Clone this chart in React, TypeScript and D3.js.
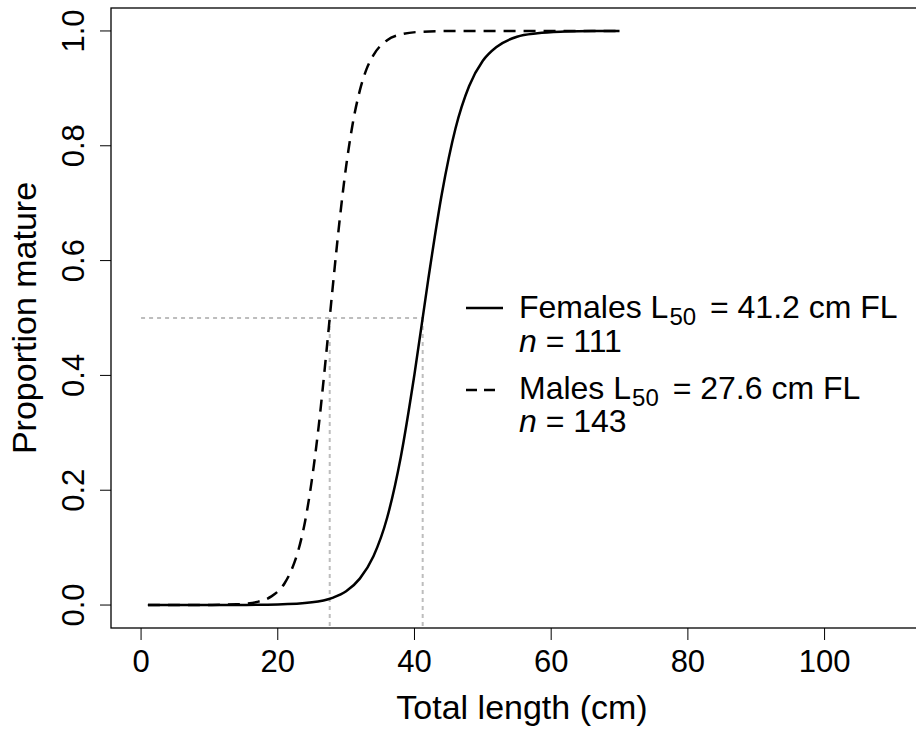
import React from "react";
import * as d3 from "d3";

// Female maturity ogive
const femaleLength = [1, 5, 10, 15, 20, 25, 28, 30, 32, 34, 36, 38, 40, 42, 44, 46, 48, 50, 52, 55, 58, 62, 66, 70];
const femaleProp = [0.0, 0.0, 0.0, 0.0002, 0.0009, 0.0047, 0.0126, 0.024, 0.046, 0.085, 0.152, 0.258, 0.402, 0.566, 0.716, 0.83, 0.904, 0.948, 0.972, 0.99, 0.996, 0.999, 1.0, 1.0];

// Male maturity ogive
const maleLength = [1, 5, 10, 14, 17, 19, 21, 22, 23, 24, 25, 26, 27, 28, 29, 30, 31, 32, 33, 34, 36, 38, 41, 45, 50, 60, 70];
const maleProp = [0.0, 0.0, 0.0002, 0.0013, 0.0055, 0.0146, 0.038, 0.061, 0.095, 0.146, 0.219, 0.313, 0.427, 0.549, 0.665, 0.764, 0.841, 0.896, 0.934, 0.958, 0.984, 0.994, 0.9986, 0.9998, 1.0, 1.0, 1.0];

const xTicks = [0, 20, 40, 60, 80, 100];
const yTicks = [0, 0.2, 0.4, 0.6, 0.8, 1.0];
const femaleL50 = 41.2;
const maleL50 = 27.6;
const femaleN = 111;
const maleN = 143;

const W = 916;
const H = 732;
const FONT = "'Liberation Sans', Arial, Helvetica, sans-serif";

export default function App() {
  const x = d3.scaleLinear().domain([-4.4, 114.4]).range([111, 923]);
  const y = d3.scaleLinear().domain([-0.04, 1.04]).range([628, 8]);

  const line = d3
    .line<[number, number]>()
    .x((d) => x(d[0]))
    .y((d) => y(d[1]))
    .curve(d3.curveMonotoneX);

  const fData = femaleLength.map((v, i) => [v, femaleProp[i]] as [number, number]);
  const mData = maleLength.map((v, i) => [v, maleProp[i]] as [number, number]);

  const grey = "#bdbdbd";
  const fs = 31;
  const titleFs = 34;
  const legFs = 32;
  const subFs = 24;

  return (
    <svg
      width={W}
      height={H}
      style={{ position: "absolute", left: 0, top: 0, background: "#fff" }}
      fontFamily={FONT}
    >
      <rect x={0} y={0} width={W} height={H} fill="#fff" />
      {/* reference lines */}
      <g stroke={grey} strokeWidth={2} strokeDasharray="4,4" fill="none">
        <line x1={x(0)} x2={x(femaleL50)} y1={y(0.5)} y2={y(0.5)} />
        <line x1={x(maleL50)} x2={x(maleL50)} y1={y(0.5)} y2={y(-0.04)} />
        <line x1={x(femaleL50)} x2={x(femaleL50)} y1={y(0.5)} y2={y(-0.04)} />
      </g>
      {/* curves */}
      <path d={line(mData) || ""} fill="none" stroke="#000" strokeWidth={2.5} strokeDasharray="12,8" />
      <path d={line(fData) || ""} fill="none" stroke="#000" strokeWidth={2.5} />

      {/* box */}
      <rect x={111} y={8} width={812} height={620} fill="none" stroke="#000" strokeWidth={1.3} />

      {/* x axis */}
      <g>
        {xTicks.map((t) => (
          <g key={t}>
            <line x1={x(t)} x2={x(t)} y1={628} y2={640} stroke="#000" strokeWidth={1} />
            <text x={x(t)} y={672} textAnchor="middle" fontSize={fs}>
              {t}
            </text>
          </g>
        ))}
        <text x={522} y={719} textAnchor="middle" fontSize={titleFs}>
          Total length (cm)
        </text>
      </g>

      {/* y axis */}
      <g>
        {yTicks.map((t) => (
          <g key={t}>
            <line x1={100} x2={111} y1={y(t)} y2={y(t)} stroke="#000" strokeWidth={1} />
            <text
              transform={`translate(84,${y(t)}) rotate(-90)`}
              textAnchor="middle"
              fontSize={fs}
            >
              {t.toFixed(1)}
            </text>
          </g>
        ))}
        <text transform={`translate(36,318) rotate(-90)`} textAnchor="middle" fontSize={titleFs}>
          Proportion mature
        </text>
      </g>

      {/* legend */}
      <g>
        <line x1={466} x2={503} y1={308} y2={308} stroke="#000" strokeWidth={2.5} />
        <line x1={466} x2={497} y1={390} y2={390} stroke="#000" strokeWidth={2.5} strokeDasharray="11,7" />
        <text x={519} y={318} fontSize={legFs}>
          Females L<tspan dy={7} dx={1} fontSize={subFs}>50</tspan>
          <tspan dy={-7} dx={5}> = {femaleL50} cm FL</tspan>
        </text>
        <text x={519} y={352} fontSize={legFs}>
          <tspan fontStyle="italic">n</tspan> = {femaleN}
        </text>
        <text x={519} y={399} fontSize={legFs}>
          Males L<tspan dy={7} dx={1} fontSize={subFs}>50</tspan>
          <tspan dy={-7} dx={5}> = {maleL50} cm FL</tspan>
        </text>
        <text x={519} y={432} fontSize={legFs}>
          <tspan fontStyle="italic">n</tspan> = {maleN}
        </text>
      </g>
    </svg>
  );
}
